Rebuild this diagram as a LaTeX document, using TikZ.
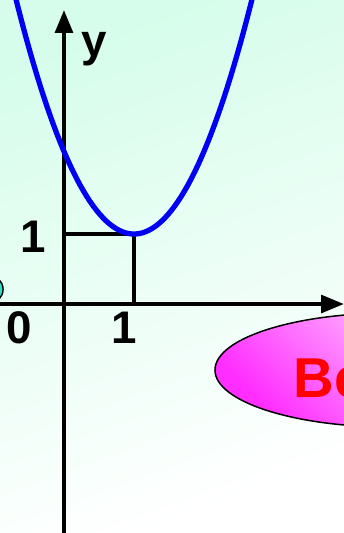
\documentclass[tikz,border=0pt]{standalone}
\usepackage{fontspec}
\setmainfont{Liberation Sans}
\usetikzlibrary{arrows.meta}
\definecolor{bgmint}{RGB}{214,253,235}
\definecolor{curveblue}{RGB}{0,0,245}
\definecolor{ovalpink}{RGB}{255,45,255}
\definecolor{dotcyan}{RGB}{51,221,204}

\begin{document}
\begin{tikzpicture}[x=1.4cm, y=1.4cm, every node/.style={font=\fontsize{26}{28}\selectfont\bfseries, inner sep=0pt},
	axis/.style={line width=2.3pt, -{Triangle[length=13pt, width=10pt]}},
	guide/.style={line width=1.8pt}]
	\clip (-0.914,-3.271) rectangle (4,4.343);
	\shade[top color=bgmint, bottom color=white, shading angle=20] (-0.914,-3.271) rectangle (4,4.343);
	% small disc cut by the left edge
	\filldraw[fill=dotcyan, draw=black, line width=0.8pt] (-1.07,0.21) circle (0.2);
	% axes
	\coordinate (O) at (0,0);
	\coordinate (xl) at (-0.914,0);
	\coordinate (xr) at (4,0);
	\coordinate (yb) at (0,-3.3);
	\coordinate (yt) at (0,4.2);
	\draw[axis] (xl) -- (xr);
	\draw[axis] (yb) -- (yt);
	% vertex guides
	\coordinate (v) at (1,1);
	\coordinate (vy) at (0,1);
	\coordinate (vx) at (1,0);
	\draw[guide] (vy) -- (v) -- (vx);
	% parabola
	\draw[curveblue, line width=3pt, domain=-0.85:2.85, samples=80] plot (\x, {1+1.18*(\x-1)^2});
	% labels
	\node (ylab) [anchor=base] at (0.43,3.53) {y};
	\node (one-y) [anchor=base] at (-0.443,0.729) {1};
	\node (one-x) [anchor=base] at (0.857,-0.557) {1};
	\node (zero) [anchor=base] at (-0.643,-0.557) {0};
	% answer oval
	\shadedraw[draw=black, line width=0.85pt, top color=white, bottom color=ovalpink, shading angle=-45] (4.671,-0.943) ellipse [x radius=2.514, y radius=0.814];
	\node (ok) [anchor=base west, text=red, font=\fontsize{32}{36}\selectfont\bfseries] at (3.28,-1.329) {Ве};
\end{tikzpicture}
\end{document}
